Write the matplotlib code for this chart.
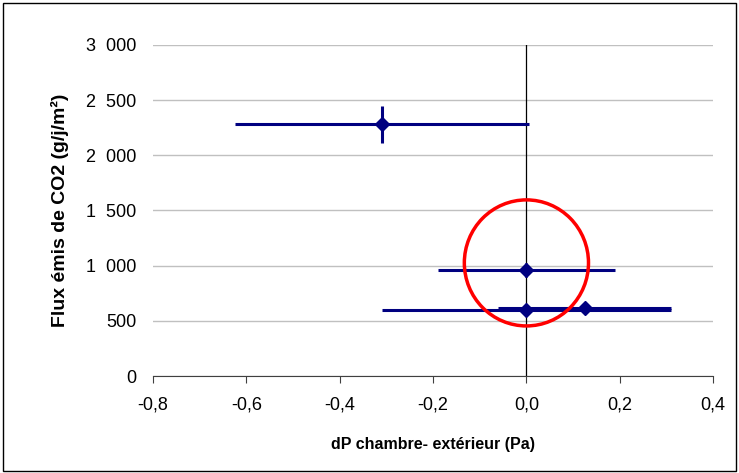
import matplotlib.pyplot as plt
from matplotlib.patches import Ellipse, Rectangle
from matplotlib.ticker import FuncFormatter

plt.rcParams.update({
    "font.family": ["Liberation Sans", "DejaVu Sans"],
    "font.size": 12,
})

# data
dp = [-0.31, 0.0, 0.0, 0.125]
flux = [2280, 960, 600, 620]
dp_err = [0.315, 0.19, 0.31, 0.185]
flux_err = [165, 60, 0, 0]

navy = '#000080'

fig = plt.figure(figsize=(7.39, 4.73), dpi=100)
ax = fig.add_axes([0.207, 0.205, 0.758, 0.700])

for x, y, xe, ye in zip(dp, flux, dp_err, flux_err):
    ax.errorbar(x, y, xerr=xe, yerr=ye if ye else None, fmt='D', color=navy,
                markersize=7, elinewidth=2.2, capsize=0, zorder=4)

# red circle highlighting the points at dP = 0
ax.add_patch(Ellipse((0.0, 1025), 0.266, 1142, fill=False, edgecolor='#ff0000',
                     linewidth=2.5, zorder=5))

ax.set_xlim(-0.8, 0.4)
ax.set_ylim(0, 3000)
ax.set_xticks([-0.8, -0.6, -0.4, -0.2, 0.0, 0.2, 0.4])
ax.set_yticks(range(0, 3001, 500))
ax.xaxis.set_major_formatter(FuncFormatter(lambda v, p: f"{v:.1f}".replace('.', ',').replace('-0,0', '0,0')))
ax.yaxis.set_major_formatter(FuncFormatter(lambda v, p: f"{int(v):,}".replace(',', '\u2007')))

ax.grid(axis='y', color='#c0c0c0', linewidth=1)
ax.set_axisbelow(True)
ax.axvline(0, color='#000000', linewidth=0.9, zorder=3)
for s in ['top', 'right', 'left']:
    ax.spines[s].set_visible(False)
ax.spines['bottom'].set_color('#404040')
ax.tick_params(axis='y', length=0, pad=12, labelsize=13)
ax.tick_params(axis='x', direction='out', length=5, color='#404040', pad=10, labelsize=13)

ax.set_xlabel("dP chambre- extérieur (Pa)", fontweight='bold', fontsize=11.5, labelpad=17)
ax.set_ylabel("Flux émis de CO2 (g/j/m²)", fontweight='bold', fontsize=14, labelpad=12)

# border around the whole chart
fig.patches.append(Rectangle((0.004, 0.004), 0.992, 0.99, transform=fig.transFigure,
                             fill=False, edgecolor='black', linewidth=1))

plt.savefig("out.png", dpi=100)
